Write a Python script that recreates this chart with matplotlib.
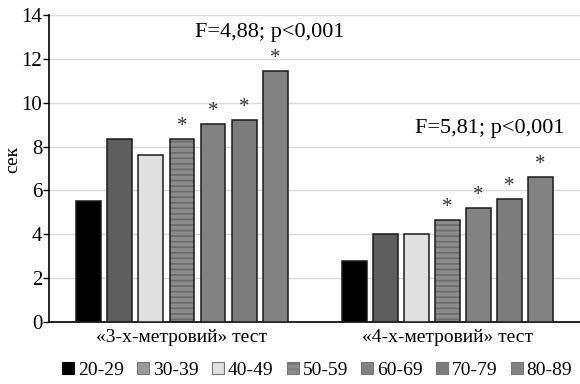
import numpy as np
import matplotlib
matplotlib.use("Agg")
import matplotlib.pyplot as plt
from matplotlib.patches import Patch

plt.rcParams['font.family'] = ['Liberation Serif', 'DejaVu Serif']
plt.rcParams['hatch.linewidth'] = 1.2

tests = ['«3-х-метровий» тест', '«4-х-метровий» тест']
ages = ['20-29', '30-39', '40-49', '50-59', '60-69', '70-79', '80-89']
test3 = [5.53, 8.33, 7.63, 8.36, 9.04, 9.24, 11.48]
test4 = [2.76, 3.99, 4.0, 4.66, 5.22, 5.63, 6.62]
signif = [False, False, False, True, True, True, True]
stats = ['F=4,88; p<0,001', 'F=5,81; p<0,001']

faces = ['#000000', '#5e5e5e', '#e0e0e0', '#8c8c8c', '#828282', '#7c7c7c', '#828282']
hatches = [None, None, None, '---', None, None, None]
legend_faces = ['#000000', '#9a9a9a', '#e0e0e0', '#8c8c8c', '#828282', '#7c7c7c', '#828282']

fig = plt.figure(figsize=(5.8, 3.84), dpi=100)
ax = fig.add_axes([0.085, 0.162, 0.915, 0.798])

x = np.arange(len(tests))
width = 0.094
step = 0.117
values = np.array([test3, test4]).T

for i, age in enumerate(ages):
    pos = x + (i - 3) * step
    if hatches[i]:
        ax.bar(pos, values[i], width, color=faces[i], hatch=hatches[i],
               edgecolor='#6a6a6a', linewidth=0, zorder=2)
        ax.bar(pos, values[i], width, fill=False, edgecolor='#1a1a1a',
               linewidth=1.1, zorder=3)
    else:
        ax.bar(pos, values[i], width, color=faces[i], edgecolor='#1a1a1a',
               linewidth=1.1, zorder=3)
    if signif[i]:
        for p, v in zip(pos, values[i]):
            ax.text(p, v + 0.12, '*', ha='center', va='bottom', fontsize=15,
                    color='#333333')

ax.text(0.33, 13.2, stats[0], ha='center', va='center', fontsize=16)
ax.text(1.16, 8.85, stats[1], ha='center', va='center', fontsize=16)

ax.set_xlim(-0.5, 1.5)
ax.set_ylim(0, 14)
ax.set_yticks(np.arange(0, 15, 2))
ax.set_xticks(x)
ax.set_xticklabels(tests, fontsize=14)
ax.tick_params(axis='x', length=0, pad=5)
ax.tick_params(axis='y', length=4, width=1, labelsize=15, pad=1)
ax.set_ylabel('сек', fontsize=14)
ax.yaxis.set_label_coords(-0.052, 0.53)
ax.grid(axis='y', color='#d9d9d9', linewidth=1)
ax.set_axisbelow(True)
for s in ['top', 'right']:
    ax.spines[s].set_visible(False)
ax.spines['left'].set_linewidth(1.2)
ax.spines['bottom'].set_linewidth(1.2)

handles = [Patch(facecolor=legend_faces[i], edgecolor='#777777' if i else '#000000',
                 hatch=hatches[i], linewidth=0.8, label=a) for i, a in enumerate(ages)]
fig.legend(handles=handles, loc='center', bbox_to_anchor=(0.547, 0.036), ncol=7,
           frameon=False, fontsize=14, handlelength=0.6, handleheight=0.6,
           handletextpad=0.2, columnspacing=0.7, borderpad=0)

fig.savefig('out.png', dpi=100)
